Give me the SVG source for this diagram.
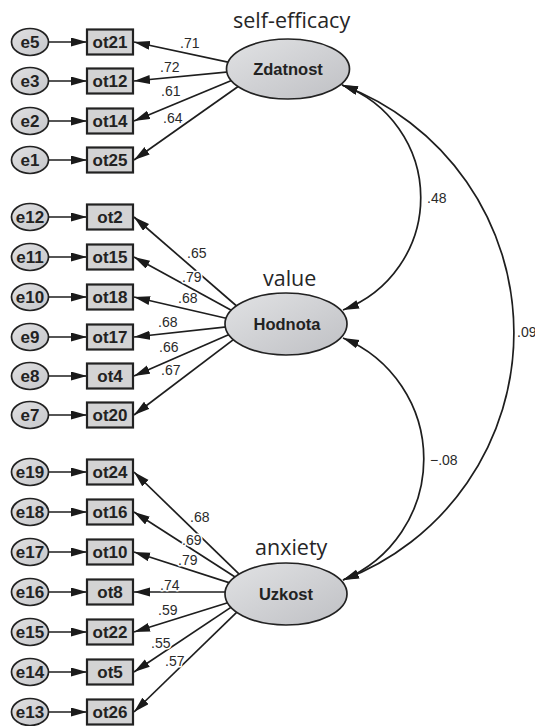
<svg xmlns="http://www.w3.org/2000/svg" width="535" height="726" viewBox="0 0 535 726">
<defs>
<marker id="ah" markerUnits="userSpaceOnUse" markerWidth="16" markerHeight="10" refX="16" refY="4.5" orient="auto-start-reverse">
<path d="M0,0 L16,4.5 L0,9 z" fill="#1a1a1a"/>
</marker>
<linearGradient id="gL" x1="0" y1="0" x2="1" y2="1">
<stop offset="0" stop-color="#e1e2e4"/>
<stop offset="1" stop-color="#bfc0c4"/>
</linearGradient>
<linearGradient id="gE" x1="0" y1="0" x2="1" y2="1">
<stop offset="0" stop-color="#e0e0e2"/>
<stop offset="1" stop-color="#c6c7ca"/>
</linearGradient>
</defs>
<style>
.ln{fill:none;stroke:#1e1e1e;stroke-width:1.7}
.ar{marker-end:url(#ah)}
.cv{marker-start:url(#ah);marker-end:url(#ah)}
.err ellipse{fill:url(#gE);stroke:#222;stroke-width:1.7}
.box rect{fill:#d3d3d4;stroke:#222;stroke-width:2.2}
.lat ellipse{fill:url(#gL);stroke:#222;stroke-width:1.7}
.t{font-family:"Liberation Sans",Arial,sans-serif;font-weight:bold;fill:#222;text-anchor:middle}
.nl{font-size:17px}
.ll{font-size:16.5px}
.lv{font-family:"Liberation Sans",Arial,sans-serif;font-size:14px;fill:#2a2a2a;paint-order:stroke;stroke:#fff;stroke-width:3px;stroke-linejoin:round}
.tt{font-family:"Open Sans",sans-serif;font-size:21.5px;fill:#262626}
</style>
<rect width="535" height="726" fill="#fff"/>

<g id="connectors">
<path class="ln ar" d="M48.5 42 L87 42"/>
<path class="ln ar" d="M48.5 81 L87 81"/>
<path class="ln ar" d="M48.5 121 L87 121"/>
<path class="ln ar" d="M48.5 160 L87 160"/>
<path class="ln ar" d="M48.5 217 L87 217"/>
<path class="ln ar" d="M48.5 257 L87 257"/>
<path class="ln ar" d="M48.5 297 L87 297"/>
<path class="ln ar" d="M48.5 337 L87 337"/>
<path class="ln ar" d="M48.5 376 L87 376"/>
<path class="ln ar" d="M48.5 415 L87 415"/>
<path class="ln ar" d="M48.5 472 L87 472"/>
<path class="ln ar" d="M48.5 512 L87 512"/>
<path class="ln ar" d="M48.5 552 L87 552"/>
<path class="ln ar" d="M48.5 592 L87 592"/>
<path class="ln ar" d="M48.5 632 L87 632"/>
<path class="ln ar" d="M48.5 672 L87 672"/>
<path class="ln ar" d="M48.5 712 L87 712"/>
<path class="ln ar" d="M246.6 66.2 L134 42"/>
<path class="ln ar" d="M246.9 70.1 L134 81"/>
<path class="ln ar" d="M246.5 74.3 L134 121"/>
<path class="ln ar" d="M252.3 76.5 L134 160"/>
<path class="ln ar" d="M247 315 L134 217"/>
<path class="ln ar" d="M244.5 317.6 L134 257"/>
<path class="ln ar" d="M244.5 322.5 L134 297"/>
<path class="ln ar" d="M244.9 324.8 L134 337"/>
<path class="ln ar" d="M246.3 327 L134 376"/>
<path class="ln ar" d="M248.9 327.9 L134 415"/>
<path class="ln ar" d="M252.3 586.9 L134 472"/>
<path class="ln ar" d="M251.8 587.8 L134 512"/>
<path class="ln ar" d="M249 589.1 L134 552"/>
<path class="ln ar" d="M245 592 L134 592"/>
<path class="ln ar" d="M246.1 597 L134 632"/>
<path class="ln ar" d="M246.6 596.9 L134 672"/>
<path class="ln ar" d="M251.3 598.1 L134 712"/>
<path class="ln cv" d="M342 85 A120 120 0 0 1 343 310"/>
<path class="ln cv" d="M342 85 A264.4 264.4 0 0 1 343 580"/>
<path class="ln cv" d="M343 338 A131 131 0 0 1 343 580"/>
<text class="lv" x="180" y="48">.71</text>
<text class="lv" x="160" y="72">.72</text>
<text class="lv" x="161" y="96">.61</text>
<text class="lv" x="163" y="123">.64</text>
<text class="lv" x="187" y="258">.65</text>
<text class="lv" x="182" y="282">.79</text>
<text class="lv" x="178" y="303">.68</text>
<text class="lv" x="158" y="327">.68</text>
<text class="lv" x="159" y="352">.66</text>
<text class="lv" x="161" y="375">.67</text>
<text class="lv" x="190" y="522">.68</text>
<text class="lv" x="182" y="545">.69</text>
<text class="lv" x="178" y="565">.79</text>
<text class="lv" x="160" y="590">.74</text>
<text class="lv" x="158" y="615">.59</text>
<text class="lv" x="151" y="648">.55</text>
<text class="lv" x="165" y="666">.57</text>
<text class="lv" x="427" y="203">.48</text>
<text class="lv" x="517" y="337">.09</text>
<text class="lv" x="430" y="465">−.08</text>
</g>

<g id="e5" class="err"><ellipse cx="30" cy="42" rx="18.5" ry="13.5"/><text class="t nl" x="30" y="48">e5</text></g>
<g id="e3" class="err"><ellipse cx="30" cy="81" rx="18.5" ry="13.5"/><text class="t nl" x="30" y="87">e3</text></g>
<g id="e2" class="err"><ellipse cx="30" cy="121" rx="18.5" ry="13.5"/><text class="t nl" x="30" y="127">e2</text></g>
<g id="e1" class="err"><ellipse cx="30" cy="160" rx="18.5" ry="13.5"/><text class="t nl" x="30" y="166">e1</text></g>
<g id="e12" class="err"><ellipse cx="30" cy="217" rx="18.5" ry="13.5"/><text class="t nl" x="30" y="223">e12</text></g>
<g id="e11" class="err"><ellipse cx="30" cy="257" rx="18.5" ry="13.5"/><text class="t nl" x="30" y="263">e11</text></g>
<g id="e10" class="err"><ellipse cx="30" cy="297" rx="18.5" ry="13.5"/><text class="t nl" x="30" y="303">e10</text></g>
<g id="e9" class="err"><ellipse cx="30" cy="337" rx="18.5" ry="13.5"/><text class="t nl" x="30" y="343">e9</text></g>
<g id="e8" class="err"><ellipse cx="30" cy="376" rx="18.5" ry="13.5"/><text class="t nl" x="30" y="382">e8</text></g>
<g id="e7" class="err"><ellipse cx="30" cy="415" rx="18.5" ry="13.5"/><text class="t nl" x="30" y="421">e7</text></g>
<g id="e19" class="err"><ellipse cx="30" cy="472" rx="18.5" ry="13.5"/><text class="t nl" x="30" y="478">e19</text></g>
<g id="e18" class="err"><ellipse cx="30" cy="512" rx="18.5" ry="13.5"/><text class="t nl" x="30" y="518">e18</text></g>
<g id="e17" class="err"><ellipse cx="30" cy="552" rx="18.5" ry="13.5"/><text class="t nl" x="30" y="558">e17</text></g>
<g id="e16" class="err"><ellipse cx="30" cy="592" rx="18.5" ry="13.5"/><text class="t nl" x="30" y="598">e16</text></g>
<g id="e15" class="err"><ellipse cx="30" cy="632" rx="18.5" ry="13.5"/><text class="t nl" x="30" y="638">e15</text></g>
<g id="e14" class="err"><ellipse cx="30" cy="672" rx="18.5" ry="13.5"/><text class="t nl" x="30" y="678">e14</text></g>
<g id="e13" class="err"><ellipse cx="30" cy="712" rx="18.5" ry="13.5"/><text class="t nl" x="30" y="718">e13</text></g>

<g id="ot21" class="box"><rect x="87" y="29.5" width="46" height="25"/><text class="t nl" x="110" y="48">ot21</text></g>
<g id="ot12" class="box"><rect x="87" y="68.5" width="46" height="25"/><text class="t nl" x="110" y="87">ot12</text></g>
<g id="ot14" class="box"><rect x="87" y="108.5" width="46" height="25"/><text class="t nl" x="110" y="127">ot14</text></g>
<g id="ot25" class="box"><rect x="87" y="147.5" width="46" height="25"/><text class="t nl" x="110" y="166">ot25</text></g>
<g id="ot2" class="box"><rect x="87" y="204.5" width="46" height="25"/><text class="t nl" x="110" y="223">ot2</text></g>
<g id="ot15" class="box"><rect x="87" y="244.5" width="46" height="25"/><text class="t nl" x="110" y="263">ot15</text></g>
<g id="ot18" class="box"><rect x="87" y="284.5" width="46" height="25"/><text class="t nl" x="110" y="303">ot18</text></g>
<g id="ot17" class="box"><rect x="87" y="324.5" width="46" height="25"/><text class="t nl" x="110" y="343">ot17</text></g>
<g id="ot4" class="box"><rect x="87" y="363.5" width="46" height="25"/><text class="t nl" x="110" y="382">ot4</text></g>
<g id="ot20" class="box"><rect x="87" y="402.5" width="46" height="25"/><text class="t nl" x="110" y="421">ot20</text></g>
<g id="ot24" class="box"><rect x="87" y="459.5" width="46" height="25"/><text class="t nl" x="110" y="478">ot24</text></g>
<g id="ot16" class="box"><rect x="87" y="499.5" width="46" height="25"/><text class="t nl" x="110" y="518">ot16</text></g>
<g id="ot10" class="box"><rect x="87" y="539.5" width="46" height="25"/><text class="t nl" x="110" y="558">ot10</text></g>
<g id="ot8" class="box"><rect x="87" y="579.5" width="46" height="25"/><text class="t nl" x="110" y="598">ot8</text></g>
<g id="ot22" class="box"><rect x="87" y="619.5" width="46" height="25"/><text class="t nl" x="110" y="638">ot22</text></g>
<g id="ot5" class="box"><rect x="87" y="659.5" width="46" height="25"/><text class="t nl" x="110" y="678">ot5</text></g>
<g id="ot26" class="box"><rect x="87" y="699.5" width="46" height="25"/><text class="t nl" x="110" y="718">ot26</text></g>

<g id="Zdatnost" class="lat"><ellipse cx="288" cy="69" rx="61.5" ry="30"/><text class="t ll" x="288" y="75">Zdatnost</text><text class="tt" x="233" y="28">self-efficacy</text></g>
<g id="Hodnota" class="lat"><ellipse cx="286" cy="324" rx="61" ry="31"/><text class="t ll" x="287" y="330">Hodnota</text><text class="tt" x="263" y="286">value</text></g>
<g id="Uzkost" class="lat"><ellipse cx="286" cy="594" rx="61" ry="31"/><text class="t ll" x="286" y="600">Uzkost</text><text class="tt" x="255" y="555">anxiety</text></g>
</svg>
